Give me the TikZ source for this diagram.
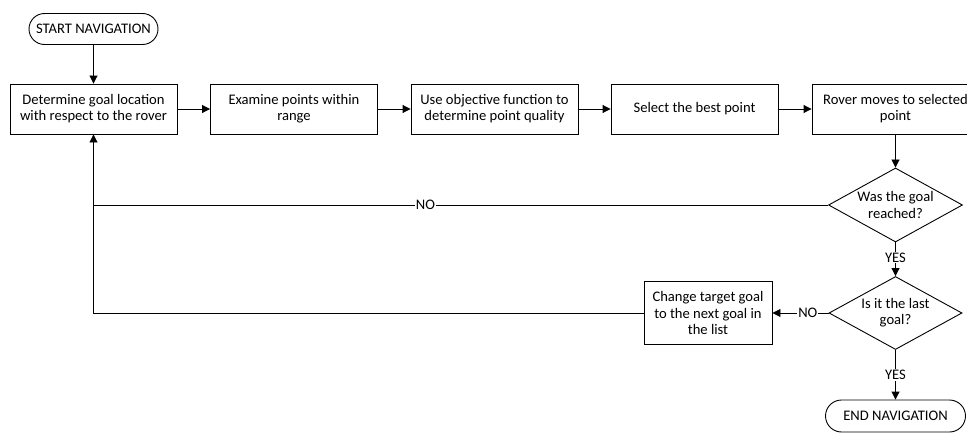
\documentclass[tikz,border=0pt]{standalone}
\usepackage{fontspec}
\setmainfont{Carlito}
\usetikzlibrary{shapes.geometric,shapes.misc,arrows.meta}
\begin{document}
\begin{tikzpicture}[x=1pt,y=-1pt,
  font=\fontsize{14.6}{16.2}\selectfont,
  line width=0.9pt,
  proc/.style={draw, rectangle, align=center, minimum width=167pt, minimum height=50pt, inner sep=2pt},
  term/.style={draw, rounded rectangle, align=center, minimum height=31pt, inner sep=1pt},
  decide/.style={draw, diamond, aspect=1.8, align=center, inner sep=0pt, minimum width=134pt, minimum height=74pt},
  flow/.style={-{Triangle[length=8pt,width=8pt]}},
  lbl/.style={fill=white, inner sep=1pt}]
\useasboundingbox (0,0) rectangle (967,436);
\clip (0,0) rectangle (967,436);

\node[term, minimum width=131pt] (start) at (93.5,29) {START NAVIGATION};
\node[proc] (b1) at (93.5,109) {Determine goal location\\with respect to the rover};
\node[proc] (b2) at (294,109) {Examine points within\\range};
\node[proc] (b3) at (494.5,109) {Use objective function to\\determine point quality};
\node[proc] (b4) at (694.5,109) {Select the best point};
\node[proc] (b5) at (895.5,109) {Rover moves to selected\\point};
\node[decide] (d1) at (895.5,205) {Was the goal\\reached?};
\node[decide, minimum width=133pt, minimum height=73pt] (d2) at (895.5,313) {Is it the last\\goal?};
\node[proc, minimum width=128pt, minimum height=63pt] (b6) at (708,313) {Change target goal\\to the next goal in\\the list};
\node[term, minimum width=142pt, minimum height=32pt] (end) at (895.5,416) {END NAVIGATION};

\coordinate (j1) at (b1.south |- d1.west);
\coordinate (j2) at (b1.south |- b6.west);

\draw[flow] (start) -- (b1);
\draw[flow] (b1) -- (b2);
\draw[flow] (b2) -- (b3);
\draw[flow] (b3) -- (b4);
\draw[flow] (b4) -- (b5);
\draw[flow] (b5) -- (d1);
\draw[flow] (d1) -- node[lbl, pos=0.45] {YES} (d2);
\draw[flow] (d2) -- node[lbl, pos=0.5] {YES} (end);
\draw[flow] (d2) -- node[lbl, pos=0.37] {NO} (b6);
\draw (d1.west) -- node[lbl, pos=0.548] {NO} (j1);
\draw[flow] (b6.west) -- (j2) -- (b1.south);
\end{tikzpicture}
\end{document}
